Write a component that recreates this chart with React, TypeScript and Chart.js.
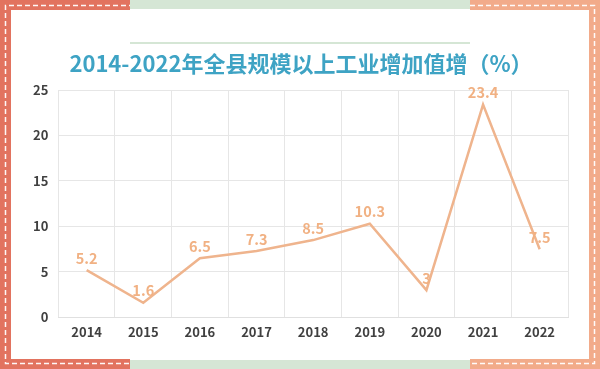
import React, { useEffect, useRef } from "react";
import { Chart, registerables } from "chart.js";

Chart.register(...registerables);

const categories = ["2014", "2015", "2016", "2017", "2018", "2019", "2020", "2021", "2022"];
const growth = [5.2, 1.6, 6.5, 7.3, 8.5, 10.3, 3, 23.4, 7.5];
const yTicks = [0, 5, 10, 15, 20, 25];
const titleText = "2014-2022年全县规模以上工业增加值增（%）";

const RED = "#e2735f";
const ORANGE = "#f2ab8a";
const GREEN = "#d5e6d5";
const LINE = "#efb48d";
const LABEL = "#f1b183";
const TITLE = "#3ea3c4";
const FONT = "'Noto Sans CJK SC', 'Noto Sans', sans-serif";

const framePlugin = {
  id: "frame",
  beforeDraw(chart: any) {
    const ctx = chart.ctx as CanvasRenderingContext2D;
    const W = chart.width;
    const H = chart.height;
    const t = 10;
    ctx.save();
    ctx.fillStyle = "#ffffff";
    ctx.fillRect(0, 0, W, H);
    ctx.fillStyle = GREEN;
    ctx.fillRect(130, 0, 340, 9);
    ctx.fillRect(130, H - 9, 340, 9);
    ctx.fillStyle = RED;
    ctx.fillRect(0, 0, 130, t);
    ctx.fillRect(0, H - t, 130, t);
    ctx.fillRect(0, 0, t + 1, H);
    ctx.fillStyle = ORANGE;
    ctx.fillRect(470, 0, W - 470, t);
    ctx.fillRect(470, H - t, W - 470, t);
    ctx.fillRect(W - t - 1, 0, t + 1, H);
    ctx.strokeStyle = "rgba(255,255,255,0.95)";
    ctx.lineWidth = 1.5;
    ctx.setLineDash([5, 3]);
    ctx.beginPath();
    ctx.moveTo(5.5, 130);
    ctx.lineTo(5.5, 5.5);
    ctx.lineTo(130, 5.5);
    ctx.moveTo(5.5, 130);
    ctx.lineTo(5.5, H - 5.5);
    ctx.lineTo(130, H - 5.5);
    ctx.moveTo(470, 5.5);
    ctx.lineTo(W - 5.5, 5.5);
    ctx.lineTo(W - 5.5, H - 5.5);
    ctx.lineTo(470, H - 5.5);
    ctx.stroke();
    ctx.setLineDash([]);
    ctx.strokeStyle = GREEN;
    ctx.lineWidth = 2;
    ctx.beginPath();
    ctx.moveTo(130, 43);
    ctx.lineTo(470, 43);
    ctx.stroke();
    ctx.fillStyle = TITLE;
    ctx.font = `bold 22px ${FONT}`;
    ctx.textAlign = "center";
    ctx.textBaseline = "middle";
    ctx.fillText(titleText, 301, 64);
    ctx.restore();
  },
};

const labelPlugin = {
  id: "pointLabels",
  afterDatasetsDraw(chart: any) {
    const ctx = chart.ctx as CanvasRenderingContext2D;
    const meta = chart.getDatasetMeta(0);
    const data = chart.data.datasets[0].data as number[];
    ctx.save();
    ctx.fillStyle = LABEL;
    ctx.font = `bold 14.5px ${FONT}`;
    ctx.textAlign = "center";
    ctx.textBaseline = "middle";
    meta.data.forEach((pt: any, i: number) => {
      ctx.fillText(String(data[i]), pt.x, pt.y - 12);
    });
    ctx.restore();
  },
};

export default function App() {
  const ref = useRef<HTMLCanvasElement>(null);
  useEffect(() => {
    document.body.style.margin = "0";
    const chart = new Chart(ref.current!, {
      type: "line",
      data: {
        labels: categories,
        datasets: [
          {
            data: growth,
            borderColor: LINE,
            borderWidth: 2.5,
            pointRadius: 0,
            tension: 0,
            fill: false,
          },
        ],
      },
      options: {
        animation: false,
        responsive: false,
        layout: { padding: { top: 90, right: 32, bottom: 22, left: 23 } },
        plugins: { legend: { display: false }, title: { display: false }, tooltip: { enabled: false } },
        scales: {
          x: {
            offset: true,
            grid: { offset: true, color: "#e6e6e6", drawTicks: false },
            border: { color: "#e0e0e0" },
            ticks: { color: "#404040", font: { family: FONT, size: 13, weight: "bold" }, padding: 7 },
          },
          y: {
            min: 0,
            max: 25,
            afterBuildTicks: (axis: any) => {
              axis.ticks = yTicks.map((v) => ({ value: v }));
            },
            grid: { color: "#e6e6e6", drawTicks: false },
            border: { display: false },
            ticks: { color: "#404040", font: { family: FONT, size: 13, weight: "bold" }, padding: 10 },
          },
        },
      },
      plugins: [framePlugin, labelPlugin],
    });
    return () => chart.destroy();
  }, []);
  return (
    <div style={{ width: 600, height: 369 }}>
      <canvas ref={ref} width={600} height={369} style={{ display: "block" }} />
    </div>
  );
}
